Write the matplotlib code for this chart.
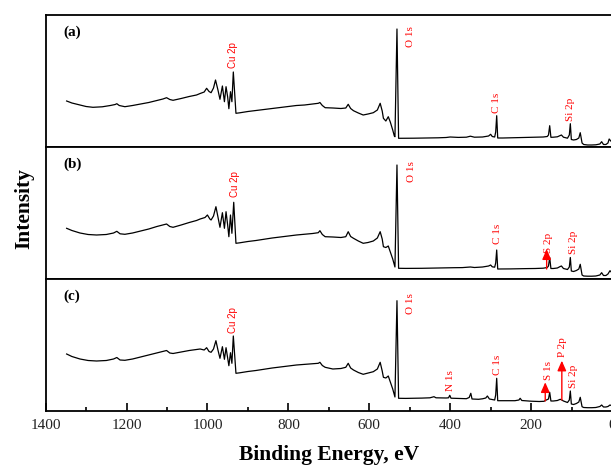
# XPS survey spectra of three samples, stacked on a shared binding-energy axis.
#
# Each panel gets its own (energy, intensity) trace plus the peak labels and
# red arrows that mark the weak S / P signals.

import matplotlib
matplotlib.use("Agg")  # no display: write the figure straight to disk
import matplotlib.pyplot as plt

SERIF = "Liberation Serif"
SANS = "Liberation Sans"

# --- spectrum (a) -----------------------------------------------------------
ENERGY_A = [
    1348, 1335, 1320, 1300, 1283, 1260, 1240, 1228, 1224, 1218, 1204, 1185,
    1165, 1145, 1125, 1110, 1101, 1093, 1085, 1065, 1045, 1027, 1018, 1008,
    1002, 996, 991, 985, 980, 974, 969, 963, 958, 954, 950, 947, 943, 939.5,
    936, 929.5, 920, 900, 880, 860, 840, 820, 800, 780, 760, 740, 726, 722,
    716, 709, 690, 670, 658, 652, 646, 639, 627, 615, 603, 590, 580, 573,
    568, 565, 559, 553, 548, 542, 538, 536.5, 531.5, 527.5, 510, 490, 470,
    450, 430, 410, 400, 380, 360, 350, 340, 320, 305, 300, 296, 290, 287.5,
    285, 282.5, 270, 250, 230, 210, 190, 170, 160, 157, 154, 151, 145, 135,
    128, 125, 120, 110, 105.5, 103, 100.5, 95, 88, 82, 78.5, 74, 70, 60, 50,
    40, 30, 25.6, 21, 15, 10, 7, 3,
]
INTENSITY_A = [
    46, 44, 42.5, 40.5, 39.7, 40.2, 41.5, 42.5, 43.3, 41.5, 40.3, 41.5,
    43, 44.5, 46.5, 48, 49.3, 47.5, 46.7, 48.5, 50.5, 52, 53.5, 55,
    58.7, 55.5, 54.3, 59, 67, 57, 47.7, 61, 45.3, 60.3, 50, 38.3, 55.3, 45.3,
    75, 33.7, 34.2, 35.5, 36.5, 37.5, 38.5, 39.5, 40.5, 41.5, 42, 43, 43.7, 44.5,
    41.5, 39.3, 39, 38.5, 39, 42.7, 38.5, 36.3, 34, 32, 33, 34.3, 37, 43.7,
    36, 28.7, 26, 30.3, 25, 17, 11, 10.3, 118, 8.7, 8.7, 8.8, 8.9,
    9.0, 9.2, 9.5, 10, 9.6, 9.8, 10.8, 9.8, 10, 11, 12.7, 10.5, 10, 15,
    31.3, 9, 9, 9.2, 9.3, 9.5, 9.7, 10, 10.5, 12, 21.3, 9.7, 9.8, 10.2,
    11.5, 12, 9.8, 8.8, 12, 23.3, 7.5, 7, 7.5, 9, 14.3, 4, 2.5, 2, 2,
    2.2, 3, 5.3, 2.5, 2.5, 4, 8, 6,
]

# --- spectrum (b) -----------------------------------------------------------
ENERGY_B = [
    1348, 1335, 1315, 1295, 1274, 1250, 1232, 1224, 1216, 1204, 1185, 1165,
    1145, 1125, 1110, 1101, 1093, 1085, 1065, 1045, 1027, 1018, 1006, 1000,
    994, 991, 985, 979, 974, 969, 963, 958, 954, 950, 947, 943, 939.5, 935,
    929.5, 920, 900, 880, 860, 840, 820, 800, 780, 760, 740, 726, 722, 716,
    709, 690, 670, 658, 652, 646, 639, 627, 615, 603, 590, 580, 573, 568,
    565, 559, 553, 548, 542, 538, 536.5, 531.5, 527.5, 510, 490, 470, 450,
    430, 410, 390, 370, 350, 340, 320, 305, 300, 296, 290, 287.5, 285, 282.5,
    270, 250, 230, 210, 190, 170, 160, 157, 154, 151, 145, 135, 128, 125,
    120, 110, 105.5, 103, 100.5, 95, 88, 82, 78.5, 74, 70, 60, 50, 40, 30,
    25.6, 21, 15, 10, 5, 2,
]
INTENSITY_B = [
    50.7, 48.5, 46, 44.5, 44, 44.5, 46, 47.7, 45.2, 44.7, 46, 48,
    50, 52.5, 54, 55, 52.5, 51.7, 54, 56.5, 58.5, 60, 61.5, 64,
    60, 59, 63, 72.3, 62, 51.7, 66.3, 50.7, 67.3, 54, 42.3, 64, 45.7, 76.7,
    35.7, 36.2, 37.5, 38.5, 39.8, 41, 42, 43, 44, 44.8, 45.5, 46.3, 48.3, 44.5,
    42.3, 42, 41.5, 42.3, 47.3, 42.5, 40.7, 38, 35.7, 36.5, 38, 41, 47.3, 40,
    32.3, 31.5, 33, 27, 20, 14, 12, 114, 10.7, 10.6, 10.6, 10.7, 10.8,
    11, 11.2, 11.3, 11.4, 12, 11.5, 12, 13, 14, 12.2, 11.8, 16, 29, 10,
    10, 10.1, 10.3, 10.4, 10.5, 10.8, 11.5, 13, 21.5, 10.5, 10.5, 11, 12.5, 13,
    10.5, 9.5, 12, 21.5, 8, 7.5, 8.5, 10, 14.7, 4, 3, 2.8, 2.8, 3, 4,
    6.3, 3.5, 3.5, 5, 8.3, 7,
]

# --- spectrum (c) -----------------------------------------------------------
ENERGY_C = [
    1348, 1335, 1315, 1295, 1274, 1250, 1232, 1224, 1216, 1204, 1185, 1165,
    1145, 1125, 1110, 1101, 1093, 1085, 1065, 1045, 1027, 1018, 1008, 1002,
    996, 991, 985, 979, 974, 969, 963, 958, 954, 950, 947, 943, 939.5, 936,
    929.5, 920, 900, 880, 860, 840, 820, 800, 780, 760, 740, 726, 722, 716,
    709, 690, 670, 658, 652, 646, 639, 627, 615, 603, 590, 580, 573, 568,
    565, 559, 553, 548, 542, 538, 536.5, 531.5, 527.5, 510, 490, 470, 450,
    440, 435, 410, 404, 401, 398, 380, 360, 353, 349, 346, 330, 320, 312,
    308, 303, 290, 287.5, 285, 282.5, 260, 240, 230, 227, 223, 200, 180,
    168, 165, 160, 157, 154, 151, 145, 135, 128, 124, 120, 110, 105.5, 103,
    100.5, 95, 88, 82, 78.5, 74, 70, 60, 50, 40, 30, 25.6, 21, 15, 10, 5, 2,
]
INTENSITY_C = [
    57, 54.5, 52, 50.5, 50, 50.5, 52, 53.5, 51, 50.7, 52, 54,
    56, 58, 59.5, 60.5, 58, 57.5, 59, 60.5, 61.5, 62, 61, 63.3,
    59.5, 58.7, 62, 70.3, 61, 52.7, 64.3, 51.7, 63.3, 53, 45.3, 58.3, 47.7, 75,
    37.7, 38.2, 39.5, 40.5, 41.8, 43, 44, 45, 46, 46.6, 47.2, 47.7, 48.7, 45.5,
    43.7, 42, 42.5, 43.7, 47.7, 43, 41, 38.5, 36.7, 38, 39.3, 42, 48.7, 40,
    33.7, 33, 35, 29, 22, 16, 14, 110.3, 12.7, 12.6, 12.7, 12.9, 13.2,
    14.3, 13.2, 13, 13.2, 15.7, 12.8, 12.6, 12.3, 13.5, 17.7, 12, 11.7, 12.2, 13,
    15, 12, 11, 16, 32.7, 10.3, 10.3, 10.3, 11, 12.7, 10.5, 9.8, 9.5,
    9.7, 10.5, 11.5, 12, 18.7, 10, 10, 10.5, 11.7, 11, 10, 8.5, 11, 20,
    7, 6.5, 7.5, 9, 13.7, 4.3, 3.5, 3.3, 3.3, 3.5, 4.5, 6, 4, 4, 4.5, 6, 5.5,
]

# --- peak labels: text, energy (eV), intensity where the label starts -------
LABELS_A = ["Cu 2p", "O 1s", "C 1s", "Si 2p"]
LABEL_E_A = [936, 499, 285, 102]
LABEL_I_A = [78.7, 100.3, 34.3, 26]

LABELS_B = ["Cu 2p", "O 1s", "C 1s", "S 2p", "Si 2p"]
LABEL_E_B = [932, 495, 283, 157.5, 96]
LABEL_I_B = [81.7, 97.3, 35, 25.7, 25]

LABELS_C = ["Cu 2p", "O 1s", "N 1s", "C 1s", "S 1s", "P 2p", "Si 2p"]
LABEL_E_C = [936, 499, 398, 284, 157.5, 122, 96]
LABEL_I_C = [78, 96.7, 20.3, 36, 31, 53.7, 22.7]

# --- red arrows: energy, tail and tip intensity -----------------------------
ARROW_E_B = [161.5]
ARROW_FROM_B = [10]
ARROW_TO_B = [29.7]

ARROW_E_C = [165, 124]
ARROW_FROM_C = [10, 11]
ARROW_TO_C = [28.7, 50.3]

PANELS = [
    ("(a)", ENERGY_A, INTENSITY_A, LABELS_A, LABEL_E_A, LABEL_I_A, [], [], []),
    ("(b)", ENERGY_B, INTENSITY_B, LABELS_B, LABEL_E_B, LABEL_I_B,
     ARROW_E_B, ARROW_FROM_B, ARROW_TO_B),
    ("(c)", ENERGY_C, INTENSITY_C, LABELS_C, LABEL_E_C, LABEL_I_C,
     ARROW_E_C, ARROW_FROM_C, ARROW_TO_C),
]

W, H = 611, 466
LEFT, RIGHT = 45.6, 612.0          # pixel span of the energy axis
TOPS = [15, 147, 279]              # pixel top of each panel
PANEL_H = 132


def draw_panel(ax, tag, energy, intensity, labels, lab_e, lab_i, arr_e, arr_from, arr_to):
    ax.plot(energy, intensity, color="black", lw=0.9)
    ax.set_xlim(1400, 0)
    ax.set_ylim(0, PANEL_H)
    ax.set_yticks([])
    for side in ax.spines.values():
        side.set_linewidth(1.3)
    ax.spines["right"].set_visible(False)

    for text, e, i in zip(labels, lab_e, lab_i):
        family = SANS if text.startswith("Cu") else SERIF
        size = 7 if text.startswith("Cu") else 8
        ax.text(e, i, text, rotation=90, ha="center", va="bottom",
                color="red", fontsize=size, family=family)

    for e, lo, hi in zip(arr_e, arr_from, arr_to):
        ax.annotate("", xy=(e, hi), xytext=(e, lo),
                    arrowprops=dict(arrowstyle="-|>,head_length=0.5,head_width=0.22",
                                    color="red", lw=1.0, mutation_scale=12,
                                    shrinkA=0, shrinkB=0))

    ax.text(0.031, 0.866, tag, transform=ax.transAxes, ha="left", va="center",
            fontsize=11, fontweight="bold", family=SERIF)


def main() -> None:
    fig = plt.figure(figsize=(W / 100, H / 100), dpi=100)
    axes = []
    for top in TOPS:
        rect = [LEFT / W, 1 - (top + PANEL_H) / H, (RIGHT - LEFT) / W, PANEL_H / H]
        axes.append(fig.add_axes(rect))

    for ax, panel in zip(axes, PANELS):
        draw_panel(ax, *panel)

    for ax in axes[:-1]:
        ax.set_xticks([])
    bottom = axes[-1]
    bottom.set_xticks(range(0, 1401, 200))
    bottom.set_xticks(range(100, 1400, 200), minor=True)
    bottom.tick_params(axis="x", which="major", direction="in", length=5.5,
                       width=1.2, pad=6, labelsize=11, labelcolor="#222222")
    bottom.tick_params(axis="x", which="minor", direction="in", length=3, width=1.2)
    for lab in bottom.get_xticklabels():
        lab.set_family(SERIF)

    fig.text((LEFT + RIGHT) / 2 / W, 1 - 455 / H, "Binding Energy, eV",
             ha="center", va="center", fontsize=15.5, fontweight="bold", family=SERIF)
    fig.text(24 / W, 1 - 209 / H, "Intensity", rotation=90, ha="center", va="center",
             fontsize=15.5, fontweight="bold", family=SERIF)

    fig.savefig("out.png", dpi=100)
    plt.close(fig)


if __name__ == "__main__":
    main()
